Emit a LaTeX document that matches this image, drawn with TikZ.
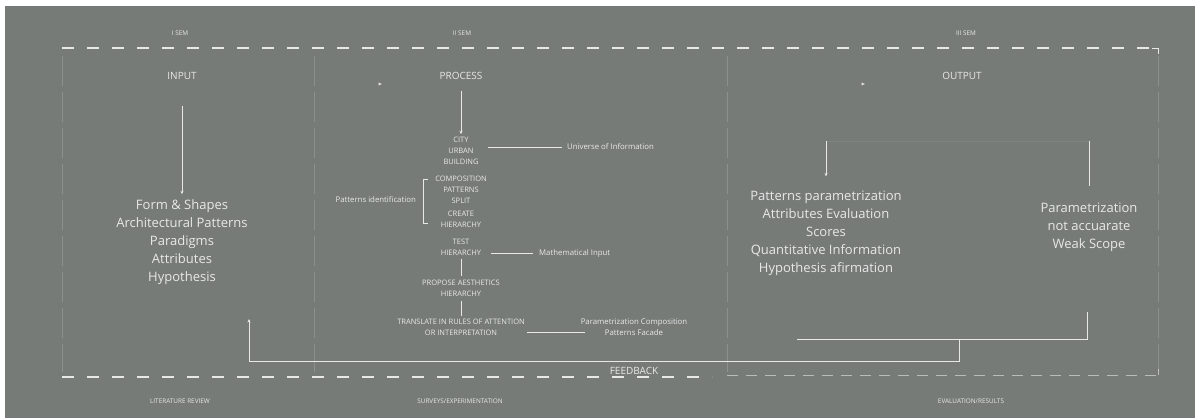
\documentclass[tikz,border=0pt]{standalone}
\usepackage{fontspec}
\setmainfont{Open Sans}
\usetikzlibrary{arrows.meta}
\definecolor{slate}{HTML}{767B78}
\definecolor{chalk}{HTML}{E8E8E8}
\begin{document}
\begin{tikzpicture}[x=1pt,y=-1pt,
  every node/.style={inner sep=0pt, text=chalk},
  semlabel/.style={font=\fontsize{6.4}{7.5}\selectfont},
  heading/.style={font=\fontsize{10}{12}\selectfont},
  bigtext/.style={font=\fontsize{13}{18}\selectfont, align=center},
  steptext/.style={font=\fontsize{7.5}{10.8}\selectfont, align=center},
  note/.style={font=\fontsize{7.8}{10.5}\selectfont, align=center},
  wire/.style={draw=chalk, line width=0.8pt},
  arrowwire/.style={wire, -{Stealth[length=3.5pt,width=3pt]}},
  guide/.style={draw=chalk, line width=1.2pt, dash pattern=on 12pt off 13pt},
  thinguide/.style={draw=chalk, draw opacity=0.6, line width=0.6pt, dash pattern=on 11pt off 8pt},
  faint/.style={draw=chalk, draw opacity=0.2, line width=0.6pt, dash pattern=on 30pt off 6pt},
]
\useasboundingbox (0,0) rectangle (1195,418);
\fill[white] (0,0) rectangle (1195,418);
\fill[slate] (5,6) rectangle (1195,418);

% column guides
\foreach \gx in {62,314,727,1158}
  \draw[faint] (\gx,56) -- (\gx,372);

% frame lines
\draw[guide] (62,48) -- (1158,48);
\draw[draw=chalk, line width=1pt] (1152,48) -- (1158,48) -- (1158,54);
\draw[guide] (62,377) -- (712,377);
\draw[thinguide] (727,375) -- (1158,375);
\draw[draw=chalk, draw opacity=0.6, line width=0.6pt] (1158,369) -- (1158,375);

% semester labels
\node[semlabel] (sem1) at (180,33) {I SEM};
\node[semlabel] (sem2) at (462,33) {II SEM};
\node[semlabel] (sem3) at (966,33) {III SEM};

% column headings
\node[heading] (input)   at (182,76) {INPUT};
\node[heading] (process) at (461,76) {PROCESS};
\node[heading] (output)  at (962,76) {OUTPUT};

% small markers
\coordinate (mk1) at (380,84);
\coordinate (mk2) at (863,84);
\foreach \m in {mk1,mk2}
  \fill[chalk] ([xshift=-1.5pt,yshift=-1.5pt]\m) -- ([xshift=1.8pt]\m) -- ([xshift=-1.5pt,yshift=1.5pt]\m) -- cycle;

% input column
\node[bigtext] (inlist) at (182,242) {Form \& Shapes\\Architectural Patterns\\Paradigms\\Attributes\\Hypothesis};
\draw[arrowwire, shorten <=26pt, shorten >=5pt] (input.south) -- (inlist.north);

% process column
\node[steptext] (city)      at (461,151)   {CITY\\URBAN\\BUILDING};
\node[steptext] (comp)      at (461,190)   {COMPOSITION\\PATTERNS\\SPLIT};
\node[steptext] (create)    at (461,219.5) {CREATE\\HIERARCHY};
\node[steptext] (test)      at (461,247.5) {TEST\\HIERARCHY};
\node[steptext] (propose)   at (461,288.5) {PROPOSE AESTHETICS\\HIERARCHY};
\node[steptext] (translate) at (461,327)   {TRANSLATE IN RULES OF ATTENTION\\OR INTERPRETATION};

\node[note, anchor=west] (universe) at (567,147) {Universe of Information};
\node[note, anchor=east] (patid)    at (416,200) {Patterns identification};
\node[note, anchor=west] (math)     at (539,253) {Mathematical Input};
\node[note] (paramcomp) at (634,327) {Parametrization Composition\\Patterns Facade};

\draw[arrowwire, shorten <=11pt, shorten >=3pt] (process.south) -- (city.north);
\draw[wire, shorten <=9pt, shorten >=5pt] (city.east |- universe.west) -- (universe.west);
\draw[wire, shorten <=10pt, shorten >=6pt] (test.east |- math.west) -- (math.west);
\draw[wire, shorten <=3pt, shorten >=4pt] (test.south) -- (propose.north);
\draw[wire, shorten <=4pt, shorten >=3pt] (propose.south) -- (translate.north);
\draw[wire, shorten <=2pt, shorten >=-4pt] ([yshift=-5pt]translate.east) -- ([yshift=-5pt]paramcomp.west);

% bracket grouping the identification steps
\coordinate (brt) at (423,179);
\coordinate (brb) at (423,223);
\draw[wire] ([xshift=5pt]brt) -- (brt) -- (brb) -- ([xshift=5pt]brb);

% output column
\node[bigtext] (outlist) at (826,233) {Patterns parametrization\\Attributes Evaluation\\Scores\\Quantitative Information\\Hypothesis afirmation};
\node[bigtext] (weak) at (1089,227) {Parametrization\\not accuarate\\Weak Scope};

\coordinate (oa) at (826,141);
\coordinate (ob) at (1089,141);
\draw[draw=chalk, draw opacity=0.08, line width=0.6pt] (oa) -- (ob);
\draw[arrowwire, shorten >=14pt] (oa) -- (outlist.north);
\draw[wire, shorten >=16pt] (ob) -- (weak.north);

% feedback loop
\coordinate (fa) at (1087,312);
\coordinate (fb) at (1087,339);
\coordinate (fc) at (797,339);
\coordinate (fd) at (959,339);
\coordinate (fe) at (959,361);
\coordinate (ff) at (249,361);
\coordinate (fg) at (249,319);
\draw[wire] (fa) -- (fb) -- (fc);
\draw[arrowwire] (fd) -- (fe) -- (ff) -- (fg);
\node[font=\fontsize{10}{12}\selectfont] (feedback) at (634,371) {FEEDBACK};

% phase labels
\node[semlabel] (lit)  at (180,401) {LITERATURE REVIEW};
\node[semlabel] (surv) at (460,401) {SURVEYS/EXPERIMENTATION};
\node[semlabel] (eval) at (971,401) {EVALUATION/RESULTS};
\end{tikzpicture}
\end{document}
